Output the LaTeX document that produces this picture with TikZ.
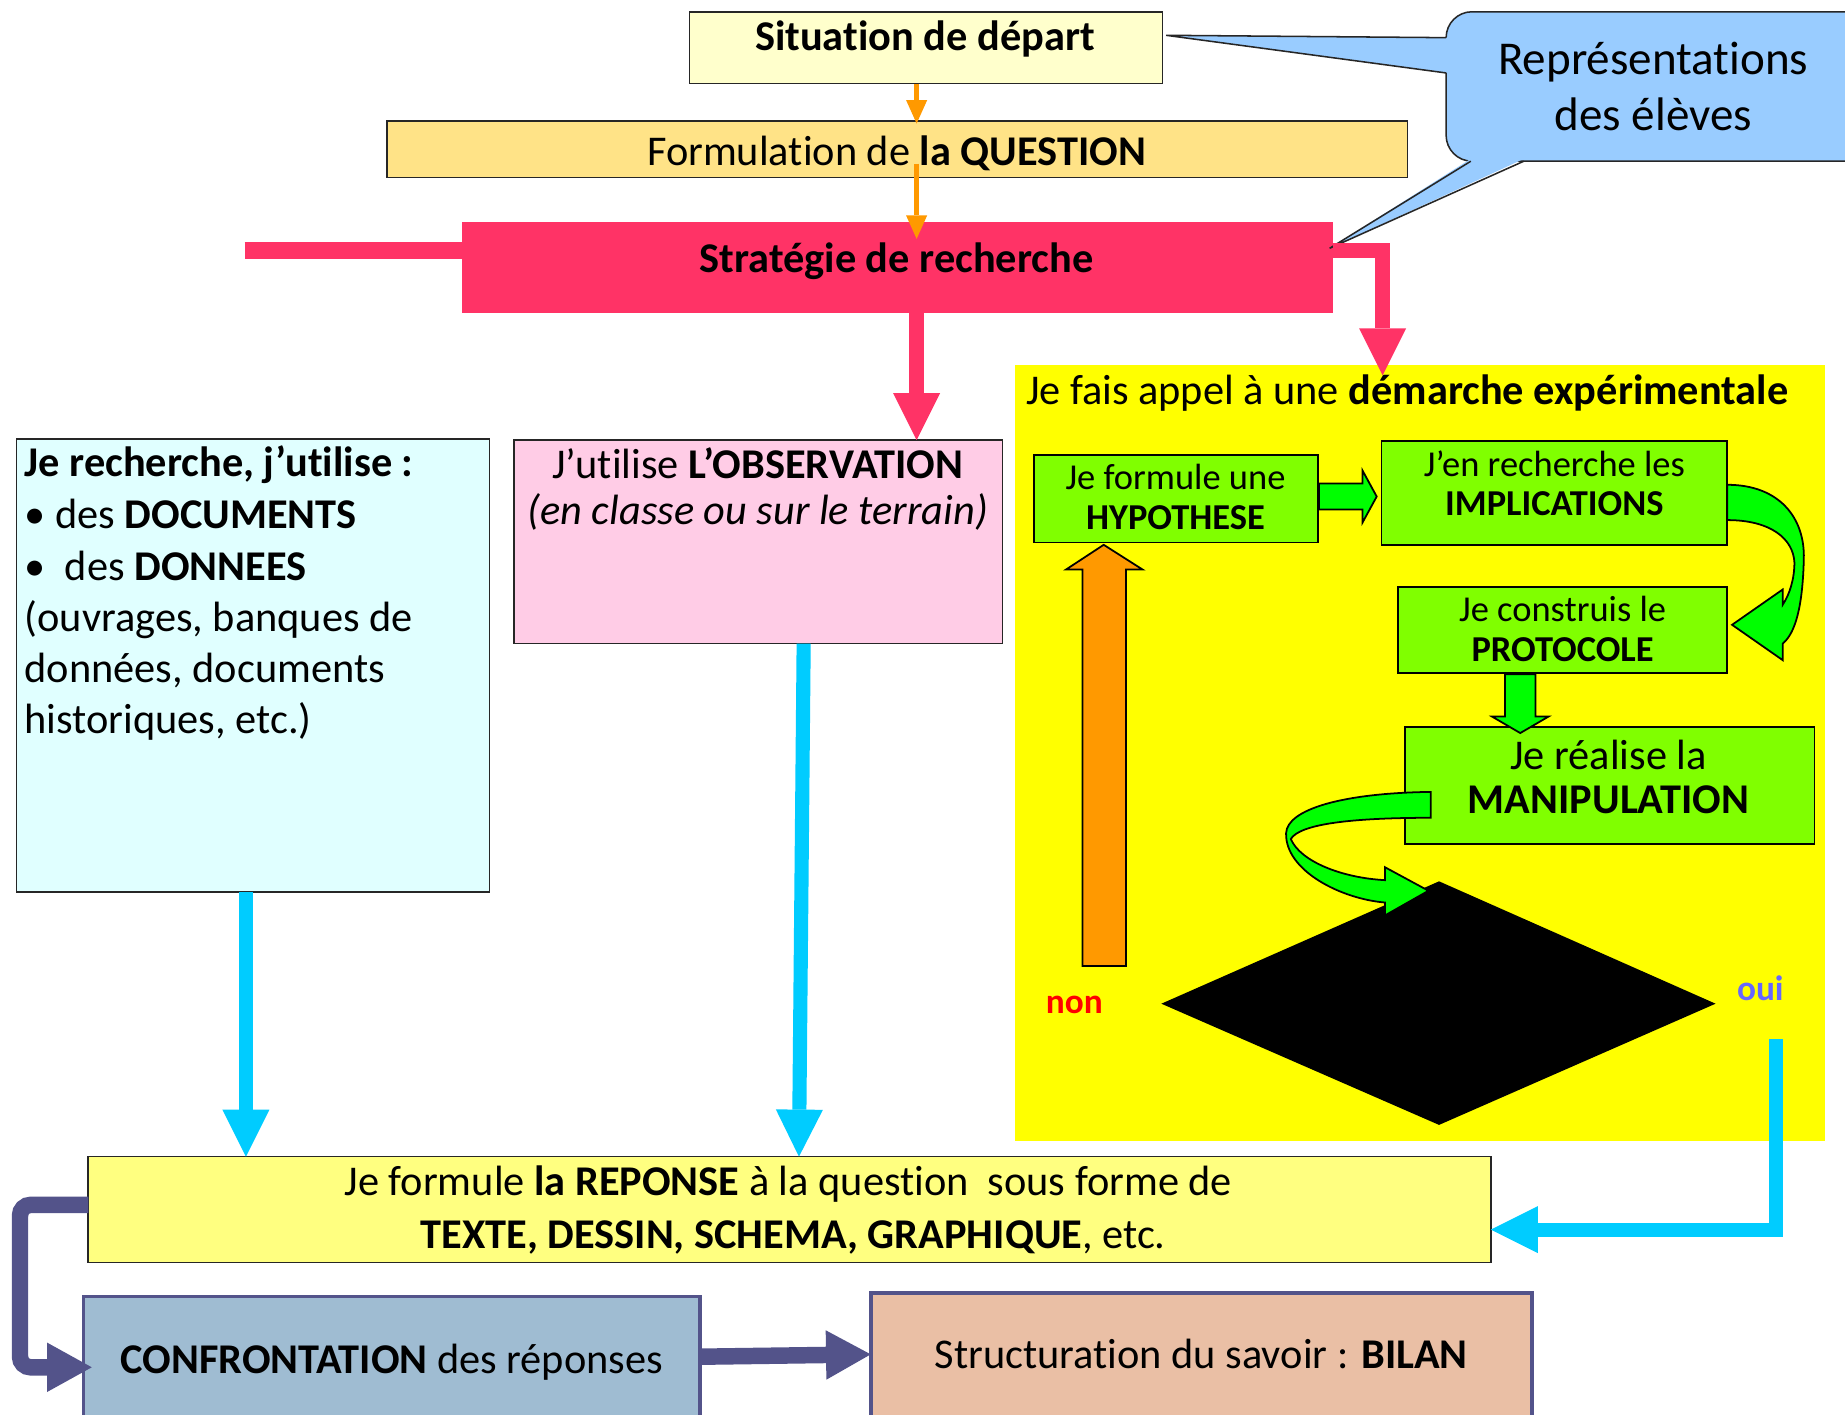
\documentclass[tikz,border=0pt]{standalone}
\usepackage{fontspec}
\setmainfont{Carlito}[Ligatures=NoCommon]
\usetikzlibrary{arrows.meta}
\newcommand\fsz[1]{\fontsize{#1}{#1}\selectfont}
\definecolor{sitc}{HTML}{FFFFCC}
\definecolor{questc}{HTML}{FFE387}
\definecolor{stratc}{HTML}{FF3366}
\definecolor{callc}{HTML}{99CCFF}
\definecolor{leftc}{HTML}{E0FFFF}
\definecolor{obsc}{HTML}{FFCCE6}
\definecolor{panelc}{HTML}{FFFF00}
\definecolor{gboxc}{HTML}{80FF00}
\definecolor{garrc}{HTML}{00FF00}
\definecolor{orangec}{HTML}{FF9900}
\definecolor{cyanc}{HTML}{00CCFF}
\definecolor{respc}{HTML}{FFFF80}
\definecolor{slatec}{HTML}{53538A}
\definecolor{confc}{HTML}{9FBCD2}
\definecolor{bilanc}{HTML}{EABFA5}
\definecolor{ouic}{HTML}{6666FF}
\definecolor{nonc}{HTML}{FF0000}
\begin{document}
\begin{tikzpicture}[x=1pt,y=-1pt,
  box/.style={draw=black!85, line width=1.3, inner sep=0, outer sep=0, anchor=north west},
  gbox/.style={box, draw=black, fill=gboxc, line width=1.5},
  txt/.style={inner sep=0, outer sep=0, anchor=base, font=\fsz{36}},
  gtxt/.style={txt, font=\fsz{31}},
  pinkarr/.style={draw=stratc, line width=13, -{Triangle[length=40pt,width=40pt,line width=0pt]}},
  cyanarr/.style={draw=cyanc, line width=12, -{Triangle[length=40pt,width=40pt,line width=0pt]}},
  slatearr/.style={draw=slatec, line width=14, -{Triangle[length=38pt,width=42pt,line width=0pt]}},
  orarr/.style={draw=orangec, line width=4, -{Triangle[length=20pt,width=18pt,line width=0pt]}},
  blockarr/.style={draw=black, line width=1.5, line join=miter},
]
\clip (0,0) rectangle (1568,1202);
\fill[white] (0,0) rectangle (1568,1202);

% ---------- top boxes
\node[box, fill=sitc, minimum width=402, minimum height=61] (sit) at (586,10) {};
\node[txt] (sitT) at (786,43) {\textbf{Situation de départ}};

\node[box, fill=questc, minimum width=867, minimum height=48] (quest) at (329,103) {};
\node[txt] (questT) at (762,141) {Formulation de \textbf{la QUESTION}};

\node[box, draw=none, fill=stratc, minimum width=740, minimum height=77] (strat) at (393,189) {};
\node[txt] (stratT) at (762,232) {\textbf{Stratégie de recherche}};

% ---------- callout
\node[box, fill=callc, rounded corners=22, minimum width=380, minimum height=127] (rep) at (1229,10) {};
\fill[callc] (991,30) -- (1231,32) -- (1231,62) -- cycle;
\fill[callc] (1250,135) -- (1295,135) -- (1130,211) -- cycle;
\draw[line width=1.3, black!85] (1229,32) -- (991,30) -- (1229,62);
\draw[line width=1.3, black!85] (1250,137) -- (1130,211) -- (1295,137);
\node[txt, font=\fsz{40}] (repT1) at (1405,63) {Représentations};
\node[txt, font=\fsz{40}] (repT2) at (1405,111) {des élèves};

% ---------- left box
\node[box, fill=leftc, minimum width=402, minimum height=385] (docs) at (14,373) {};
\node[txt, anchor=base west] (d1) at (21,405) {\textbf{Je recherche, j’utilise :}};
\node[txt, anchor=base west] (d2) at (21,449) {• des \textbf{DOCUMENTS}};
\node[txt, anchor=base west] (d3) at (21,493) {•\ \ des \textbf{DONNEES}};
\node[txt, anchor=base west] (d4) at (21,537) {(ouvrages, banques de};
\node[txt, anchor=base west] (d5) at (21,580) {données, documents};
\node[txt, anchor=base west] (d6) at (21,623) {historiques, etc.)};

% ---------- observation box
\node[box, fill=obsc, minimum width=415, minimum height=173] (obs) at (437,374) {};
\node[txt] (o1) at (644,407) {J’utilise \textbf{L’OBSERVATION}};
\node[txt] (o2) at (644,446) {\textit{(en classe ou sur le terrain)}};

% ---------- experimental panel
\node[box, draw=none, fill=panelc, minimum width=688, minimum height=660] (panel) at (863,310) {};
\node[txt, anchor=base west] (panelT) at (872,344) {Je fais appel à une \textbf{démarche expérimentale}};

\node[gbox, minimum width=241, minimum height=74] (hyp) at (879,387) {};
\node[gtxt] (h1) at (999,416) {Je formule une};
\node[gtxt] (h2) at (999,450) {\textbf{HYPOTHESE}};

\node[gbox, minimum width=294, minimum height=88] (impl) at (1174,375) {};
\node[gtxt] (i1) at (1321,405) {J’en recherche les};
\node[gtxt] (i2) at (1321,438) {\textbf{IMPLICATIONS}};

\node[gbox, minimum width=280, minimum height=73] (prot) at (1188,499) {};
\node[gtxt] (p1) at (1328,528) {Je construis le};
\node[gtxt] (p2) at (1328,562) {\textbf{PROTOCOLE}};

\node[gbox, minimum width=348, minimum height=99] (manip) at (1194,618) {};
\node[txt] (m1) at (1367,654) {Je réalise la};
\node[txt] (m2) at (1367,691) {\textbf{MANIPULATION}};

% decision diamond
\coordinate (dL) at (987,853);
\coordinate (dT) at (1223,749);
\coordinate (dR) at (1458,853);
\coordinate (dB) at (1223,956);
\fill[black] (dL) -- (dT) -- (dR) -- (dB) -- cycle;

% green block arrows
\filldraw[blockarr, fill=garrc] (1121,411) -- (1158,411) -- (1158,400) -- (1170,422) -- (1158,444) -- (1158,433) -- (1121,433) -- cycle;
\filldraw[blockarr, fill=garrc] (1468,412) .. controls (1512,412) and (1534,440) .. (1533,475)
  .. controls (1532,515) and (1526,538) .. (1515,547) -- (1515,561) -- (1472,531) -- (1515,501) -- (1515,514)
  .. controls (1521,505) and (1525,492) .. (1525,478) .. controls (1524,458) and (1505,442) .. (1468,442) -- cycle;
\filldraw[blockarr, fill=garrc] (1279,573) -- (1279,609) -- (1268,609) -- (1292,623) -- (1316,609) -- (1305,609) -- (1305,573) -- cycle;
\filldraw[blockarr, fill=garrc] (1216,673) .. controls (1140,674) and (1094,688) .. (1093,708)
  .. controls (1092,740) and (1140,764) .. (1177,767) -- (1177,778) -- (1214,757) -- (1177,737) -- (1177,748)
  .. controls (1140,746) and (1105,732) .. (1097,713) .. controls (1105,700) and (1150,695) .. (1216,695) -- cycle;

% orange block arrow (non -> hypothese)
\filldraw[blockarr, fill=orangec] (920,821) -- (920,484) -- (906,484) -- (938,463) -- (971,484) -- (957,484) -- (957,821) -- cycle;

\node[txt, font=\fsz{30}, text=nonc] (non) at (913,861) {\textbf{non}};
\node[txt, font=\fsz{30}, text=ouic] (oui) at (1496,850) {\textbf{oui}};

% ---------- response box
\node[box, fill=respc, minimum width=1192, minimum height=90] (resp) at (75,983) {};
\node[txt] (r1) at (670,1016) {Je formule \textbf{la REPONSE} à la question\ \ sous forme de};
\node[txt] (r2) at (674,1061) {\textbf{TEXTE, DESSIN, SCHEMA, GRAPHIQUE}, etc.};

% ---------- bottom boxes
\node[box, draw=slatec, line width=3, fill=confc, minimum width=524, minimum height=140] (conf) at (71,1102) {};
\node[txt] (c1) at (333,1167) {\textbf{CONFRONTATION} des réponses};
\node[box, draw=slatec, line width=3, fill=bilanc, minimum width=562, minimum height=140] (bilan) at (740,1099) {};
\node[txt] (b1) at (1021,1163) {Structuration du savoir : \textbf{BILAN}};

% ---------- connectors
\coordinate (xa) at (779,0);
\draw[orarr] (sit.south -| xa) -- (779,105);
\coordinate (qo) at (779,139);
\coordinate (qt) at (779,203);
\draw[orarr] (qo) -- (qt);

\coordinate (stubL) at (208,213);
\draw[draw=stratc, line width=14] (stubL) -- (strat.west |- stubL);
\coordinate (tipR) at (1175,319);
\draw[pinkarr] (strat.east |- stubL) -| (tipR);
\draw[pinkarr] (strat.south -| xa) -- (obs.north -| xa);

\coordinate (cl) at (209,0);
\draw[cyanarr] (docs.south -| cl) -- (resp.north -| cl);
\coordinate (ca) at (683,0);
\coordinate (cb) at (679,0);
\draw[cyanarr] (obs.south -| ca) -- (resp.north -| cb);
\coordinate (ouiS) at (1509,883);
\coordinate (yr) at (0,1045);
\draw[cyanarr, line join=miter] (ouiS) |- (resp.east |- yr);

\coordinate (y1) at (0,1024);
\coordinate (tipC) at (78,1162);
\draw[slatearr, rounded corners=9] (resp.west |- y1) -- (17,1024) -- (17,1162) -- (tipC);
\draw[slatearr] (596,1153) -- (bilan.west |- 0,1151);
\end{tikzpicture}
\end{document}
